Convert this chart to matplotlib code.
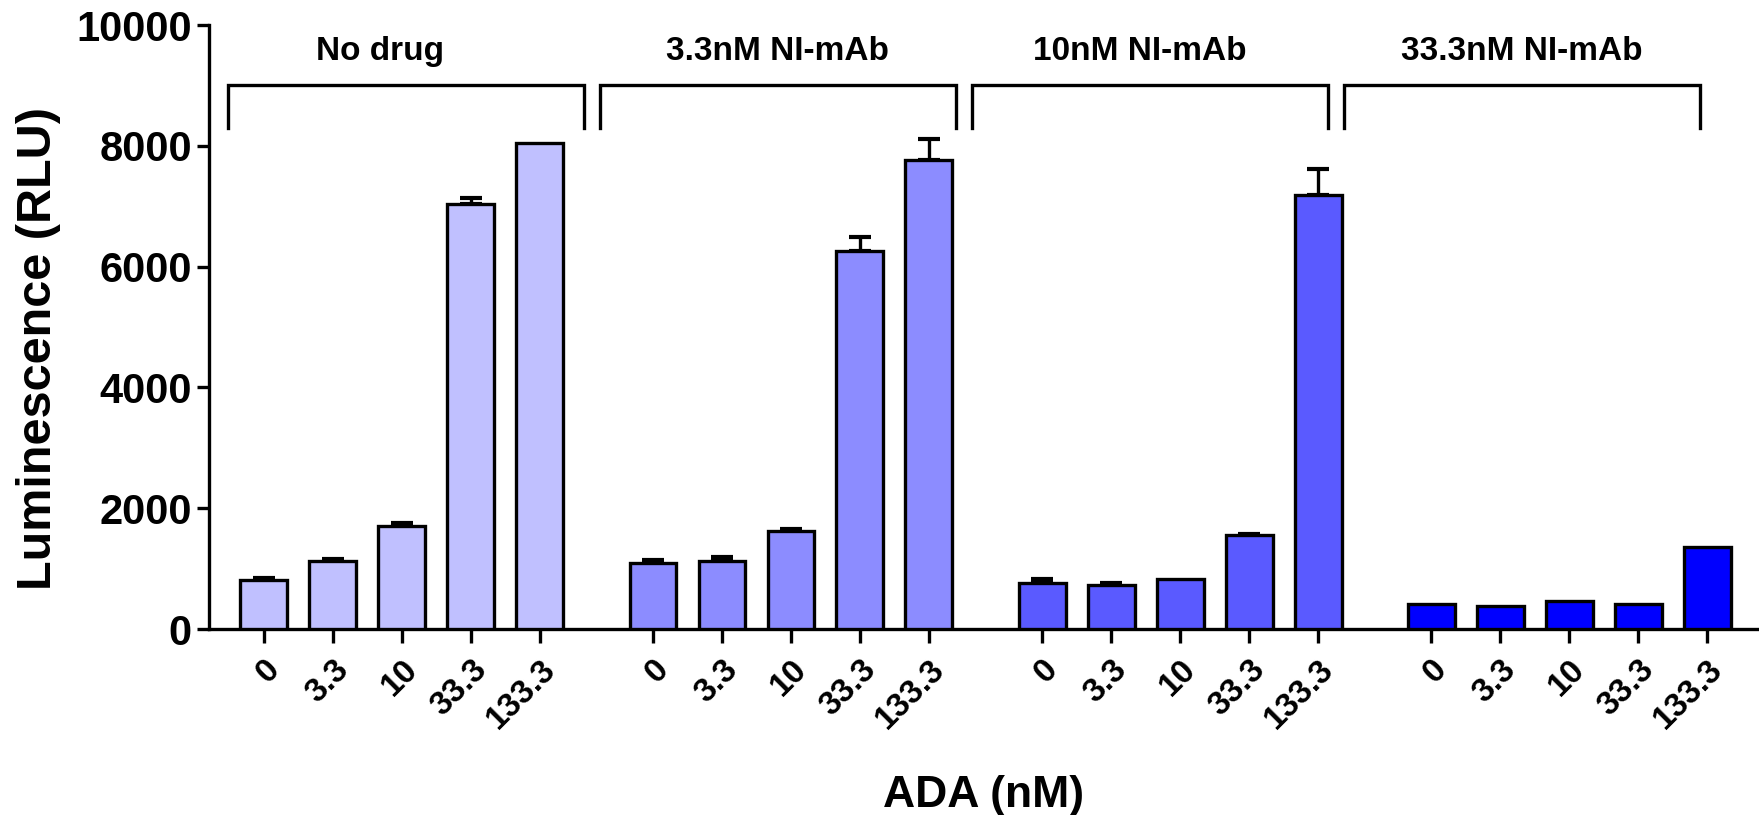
import numpy as np
import matplotlib
matplotlib.use("Agg")
import matplotlib.pyplot as plt

plt.rcParams['font.family'] = ['Liberation Sans', 'DejaVu Sans']
plt.rcParams['font.weight'] = 'bold'

groups = ["No drug", "3.3nM NI-mAb", "10nM NI-mAb", "33.3nM NI-mAb"]
ada = ["0", "3.3", "10", "33.3", "133.3"]
colors = ["#C0C0FF", "#8C8CFF", "#5A5AFF", "#0000FF"]

means = [
    [810, 1130, 1700, 7040, 8050],
    [1100, 1130, 1620, 6260, 7770],
    [770, 730, 830, 1560, 7190],
    [420, 380, 460, 420, 1360],
]
errs = [
    [40, 30, 60, 100, 0],
    [50, 60, 30, 230, 340],
    [50, 30, 0, 20, 420],
    [0, 0, 0, 0, 0],
]

group_step = 5.64
bar_w = 0.68

fig = plt.figure(figsize=(17.59, 8.15), dpi=100)
ax = fig.add_axes([0.1186, 0.2282, 0.8814, 0.741])

xticks, xlabels = [], []
for g in range(len(groups)):
    x = g * group_step + np.arange(len(ada))
    ax.bar(x, means[g], width=bar_w, color=colors[g], edgecolor='black',
           linewidth=2.4, zorder=3)
    e = np.array(errs[g])
    m = e > 0
    if m.any():
        ax.errorbar(x[m], np.array(means[g])[m],
                    yerr=[np.zeros(m.sum()), e[m]], fmt='none',
                    ecolor='black', elinewidth=2.4, capsize=8, capthick=3,
                    zorder=2)
    xticks.extend(x)
    xlabels.extend(ada)

# group brackets
br_start, br_step, br_w = -0.52, 5.39, 5.16
nudge = [-0.38, 0, -0.15, 0]
for g, name in enumerate(groups):
    x0 = br_start + g * br_step
    x1 = x0 + br_w
    ax.plot([x0, x0, x1, x1], [8300, 9000, 9000, 8300], color='black',
            linewidth=2.4, clip_on=False, solid_joinstyle='miter')
    ax.text((x0 + x1) / 2 + nudge[g], 9560, name, ha='center', va='center',
            fontsize=24, fontweight='bold')

ax.set_xlim(-0.80, 21.67)
ax.set_ylim(0, 10000)
ax.set_yticks([0, 2000, 4000, 6000, 8000, 10000])
ax.set_xticks(xticks)
ax.set_xticklabels(xlabels, rotation=45, ha='right', va='top',
                   rotation_mode='anchor', fontsize=24, fontweight='bold')
for lab in ax.get_yticklabels():
    lab.set_fontsize(30)
    lab.set_fontweight('bold')

for s in ['top', 'right']:
    ax.spines[s].set_visible(False)
for s in ['left', 'bottom']:
    ax.spines[s].set_linewidth(2.4)
ax.tick_params(axis='y', length=9, width=2.4, pad=3)
ax.tick_params(axis='x', length=10, width=2.4, pad=8)

fig.text(0.022, 0.573, "Luminescence (RLU)", rotation=90, ha='center',
         va='center', fontsize=35, fontweight='bold')
fig.text(0.559, 0.024, "ADA (nM)", ha='center', va='center', fontsize=32,
         fontweight='bold')

fig.savefig("out.png", dpi=100)
